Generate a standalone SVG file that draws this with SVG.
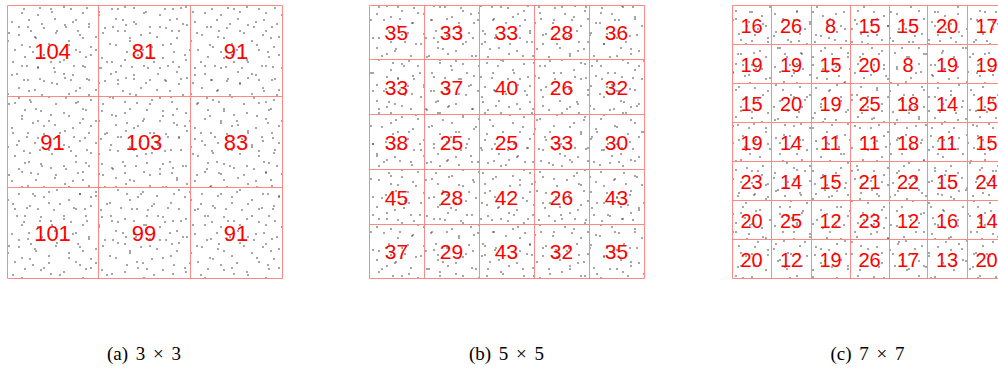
<svg xmlns="http://www.w3.org/2000/svg" width="998" height="369" viewBox="0 0 998 369">
<style>
.g{fill:none;stroke:#f88;stroke-width:1}
.n{font-family:"Liberation Sans",Arial,sans-serif;fill:#f00;text-anchor:middle}
.a{font-size:22px}.b{font-size:21px}.c{font-size:20px}
.cap{font-family:"Liberation Serif","Times New Roman",serif;font-size:19px;word-spacing:3px;fill:#000;text-anchor:middle}
</style>
<defs>
<pattern id="pA" patternUnits="userSpaceOnUse" width="61" height="53">
<g fill="#333">
<circle cx="3" cy="7" r="0.8"/><circle cx="12" cy="22" r="0.8"/><circle cx="25" cy="4" r="0.8"/><circle cx="38" cy="15" r="0.8"/><circle cx="51" cy="9" r="0.8"/><circle cx="57" cy="31" r="0.8"/><circle cx="8" cy="41" r="0.8"/><circle cx="19" cy="35" r="0.8"/><circle cx="30" cy="47" r="0.8"/><circle cx="44" cy="28" r="0.8"/><circle cx="49" cy="44" r="0.8"/><circle cx="22" cy="13" r="0.8"/><circle cx="35" cy="37" r="0.8"/><circle cx="55" cy="19" r="0.8"/><circle cx="4" cy="25" r="0.8"/><circle cx="15" cy="50" r="0.8"/><circle cx="41" cy="5" r="0.8"/><circle cx="28" cy="27" r="0.8"/>
</g>
</pattern>
<pattern id="pB" patternUnits="userSpaceOnUse" width="47" height="71">
<g fill="#333">
<circle cx="5" cy="12" r="0.8"/><circle cx="17" cy="3" r="0.8"/><circle cx="29" cy="20" r="0.8"/><circle cx="40" cy="8" r="0.8"/><circle cx="9" cy="33" r="0.8"/><circle cx="22" cy="45" r="0.8"/><circle cx="36" cy="38" r="0.8"/><circle cx="44" cy="55" r="0.8"/><circle cx="13" cy="62" r="0.8"/><circle cx="27" cy="66" r="0.8"/><circle cx="33" cy="52" r="0.8"/><circle cx="2" cy="50" r="0.8"/><circle cx="19" cy="27" r="0.8"/><circle cx="42" cy="24" r="0.8"/><circle cx="7" cy="68" r="0.8"/><circle cx="38" cy="67" r="0.8"/><circle cx="24" cy="9" r="0.8"/><circle cx="31" cy="31" r="0.8"/>
</g>
</pattern>
<pattern id="pA2" href="#pA" patternTransform="translate(17,29)"/>
<pattern id="pB2" href="#pB" patternTransform="translate(31,11)"/>
<pattern id="pA3" href="#pA" patternTransform="translate(40,7)"/>
<pattern id="pB3" href="#pB" patternTransform="translate(9,45)"/>
</defs>
<rect width="998" height="369" fill="#fff"/>

<g id="panel-a">
<rect x="7" y="5" width="275" height="273" fill="url(#pA)"/>
<rect x="7" y="5" width="275" height="273" fill="url(#pB)"/>
<path class="g" d="M7.5 5.5H282.5V278.5H7.5Z M98.5 5.5V278.5 M190.5 5.5V278.5 M7.5 96.5H282.5 M7.5 187.5H282.5"/>
<text class="n a" x="52.5" y="59">104</text><text class="n a" x="144" y="59">81</text><text class="n a" x="236" y="59">91</text>
<text class="n a" x="52.5" y="150">91</text><text class="n a" x="144" y="150">103</text><text class="n a" x="236" y="150">83</text>
<text class="n a" x="52.5" y="241">101</text><text class="n a" x="144" y="241">99</text><text class="n a" x="236" y="241">91</text>
<text class="cap" x="144" y="360">(a) 3 × 3</text>
</g>

<g id="panel-b">
<rect x="369" y="5" width="275" height="273" fill="url(#pA2)"/>
<rect x="369" y="5" width="275" height="273" fill="url(#pB2)"/>
<path class="g" d="M369.5 5.5H644.5V278.5H369.5Z M424.5 5.5V278.5 M479.5 5.5V278.5 M534.5 5.5V278.5 M589.5 5.5V278.5 M369.5 59.5H644.5 M369.5 114.5H644.5 M369.5 169.5H644.5 M369.5 224.5H644.5"/>
<text class="n b" x="396.5" y="40">35</text><text class="n b" x="451.5" y="40">33</text><text class="n b" x="506.5" y="40">33</text><text class="n b" x="561.5" y="40">28</text><text class="n b" x="616.5" y="40">36</text>
<text class="n b" x="396.5" y="95">33</text><text class="n b" x="451.5" y="95">37</text><text class="n b" x="506.5" y="95">40</text><text class="n b" x="561.5" y="95">26</text><text class="n b" x="616.5" y="95">32</text>
<text class="n b" x="396.5" y="150">38</text><text class="n b" x="451.5" y="150">25</text><text class="n b" x="506.5" y="150">25</text><text class="n b" x="561.5" y="150">33</text><text class="n b" x="616.5" y="150">30</text>
<text class="n b" x="396.5" y="205">45</text><text class="n b" x="451.5" y="205">28</text><text class="n b" x="506.5" y="205">42</text><text class="n b" x="561.5" y="205">26</text><text class="n b" x="616.5" y="205">43</text>
<text class="n b" x="396.5" y="259">37</text><text class="n b" x="451.5" y="259">29</text><text class="n b" x="506.5" y="259">43</text><text class="n b" x="561.5" y="259">32</text><text class="n b" x="616.5" y="259">35</text>
<text class="cap" x="506.5" y="360">(b) 5 × 5</text>
</g>

<g id="panel-c">
<rect x="732" y="5" width="266" height="273" fill="url(#pA3)"/>
<rect x="732" y="5" width="266" height="273" fill="url(#pB3)"/>
<path class="g" d="M1006.5 5.5H732.5V278.5H1006.5 M771.5 5.5V278.5 M811.5 5.5V278.5 M850.5 5.5V278.5 M889.5 5.5V278.5 M927.5 5.5V278.5 M967.5 5.5V278.5 M732.5 44.5H998 M732.5 83.5H998 M732.5 122.5H998 M732.5 161.5H998 M732.5 200.5H998 M732.5 239.5H998"/>
<g class="n c">
<text x="751.5" y="33">16</text><text x="791" y="33">26</text><text x="830.5" y="33">8</text><text x="869.5" y="33">15</text><text x="908" y="33">15</text><text x="947" y="33">20</text><text x="986.5" y="33">17</text>
<text x="751.5" y="72">19</text><text x="791" y="72">19</text><text x="830.5" y="72">15</text><text x="869.5" y="72">20</text><text x="908" y="72">8</text><text x="947" y="72">19</text><text x="986.5" y="72">19</text>
<text x="751.5" y="111">15</text><text x="791" y="111">20</text><text x="830.5" y="111">19</text><text x="869.5" y="111">25</text><text x="908" y="111">18</text><text x="947" y="111">14</text><text x="986.5" y="111">15</text>
<text x="751.5" y="150">19</text><text x="791" y="150">14</text><text x="830.5" y="150">11</text><text x="869.5" y="150">11</text><text x="908" y="150">18</text><text x="947" y="150">11</text><text x="986.5" y="150">15</text>
<text x="751.5" y="189">23</text><text x="791" y="189">14</text><text x="830.5" y="189">15</text><text x="869.5" y="189">21</text><text x="908" y="189">22</text><text x="947" y="189">15</text><text x="986.5" y="189">24</text>
<text x="751.5" y="228">20</text><text x="791" y="228">25</text><text x="830.5" y="228">12</text><text x="869.5" y="228">23</text><text x="908" y="228">12</text><text x="947" y="228">16</text><text x="986.5" y="228">14</text>
<text x="751.5" y="267">20</text><text x="791" y="267">12</text><text x="830.5" y="267">19</text><text x="869.5" y="267">26</text><text x="908" y="267">17</text><text x="947" y="267">13</text><text x="986.5" y="267">20</text>
</g>
<text class="cap" x="867.5" y="360">(c) 7 × 7</text>
</g>
</svg>
